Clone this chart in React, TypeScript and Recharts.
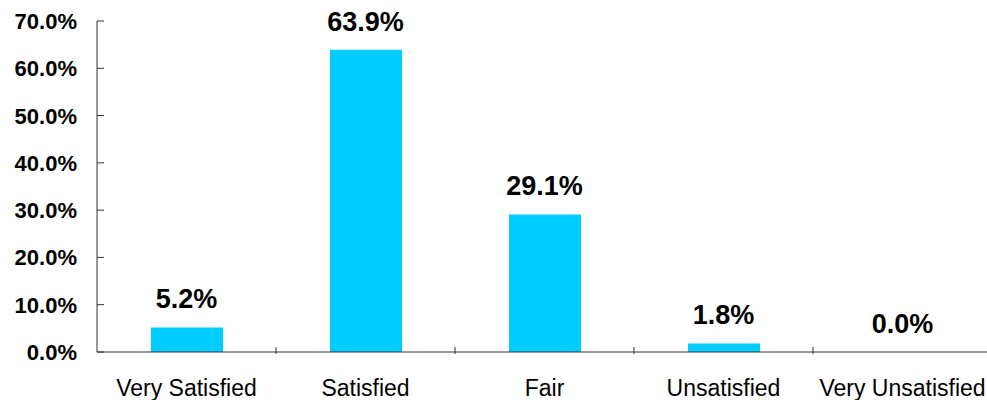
import React from "react";
import { ComposedChart, Bar, Line, XAxis, YAxis } from "recharts";

const categories = ["Very Satisfied", "Satisfied", "Fair", "Unsatisfied", "Very Unsatisfied"];
const values = [5.2, 63.9, 29.1, 1.8, 0.0];
const yTicks = [0, 10, 20, 30, 40, 50, 60, 70];

const data = categories.map((name, i) => ({ name, value: values[i] }));

const FONT = "'Liberation Sans', Arial, Helvetica, sans-serif";
const AXIS_COLOR = "#333333";

const YTick = (props: any) => {
  const { x, y, payload } = props;
  return (
    <g>
      <line x1={x + 20} y1={y} x2={x + 27} y2={y} stroke={AXIS_COLOR} strokeWidth={1} />
      <text x={x} y={y} dy={8} textAnchor="end" fontFamily={FONT} fontSize={22} fontWeight="bold" fill="#000">
        {payload.value.toFixed(1) + "%"}
      </text>
    </g>
  );
};

const XTick = (props: any) => {
  const { x, y, payload, width } = props;
  const half = width / categories.length / 2;
  return (
    <g>
      <line x1={x + half} y1={y} x2={x + half} y2={y - 7} stroke={AXIS_COLOR} strokeWidth={1} />
      <text x={x} y={y} dy={42} textAnchor="middle" fontFamily={FONT} fontSize={23} fill="#000">
        {payload.value}
      </text>
    </g>
  );
};

const ValueLabel = (props: any) => {
  const { x, y, value } = props;
  return (
    <text x={x} y={y - 19} textAnchor="middle" fontFamily={FONT} fontSize={27} fontWeight="bold" fill="#000">
      {Number(value).toFixed(1) + "%"}
    </text>
  );
};

export default function App() {
  return (
    <div style={{ width: 987, height: 400, overflow: "hidden" }}>
      <style>{"body{margin:0 !important;overflow:hidden;}"}</style>
      <ComposedChart
        width={1000}
        height={400}
        data={data}
        margin={{ top: 21, right: 8, bottom: 8, left: 0 }}
      >
        <YAxis
          domain={[0, 70]}
          ticks={yTicks}
          width={97}
          interval={0}
          tickSize={0}
          tickMargin={20}
          tickLine={false}
          axisLine={{ stroke: AXIS_COLOR, strokeWidth: 1 }}
          tick={<YTick />}
        />
        <XAxis
          dataKey="name"
          height={40}
          interval={0}
          tickSize={0}
          tickLine={false}
          axisLine={{ stroke: AXIS_COLOR, strokeWidth: 1 }}
          tick={<XTick />}
        />
        <Bar dataKey="value" fill="#00CCFF" barSize={72} isAnimationActive={false} />
        <Line
          dataKey="value"
          stroke="none"
          dot={false}
          activeDot={false}
          legendType="none"
          isAnimationActive={false}
          label={<ValueLabel />}
        />
      </ComposedChart>
    </div>
  );
}
